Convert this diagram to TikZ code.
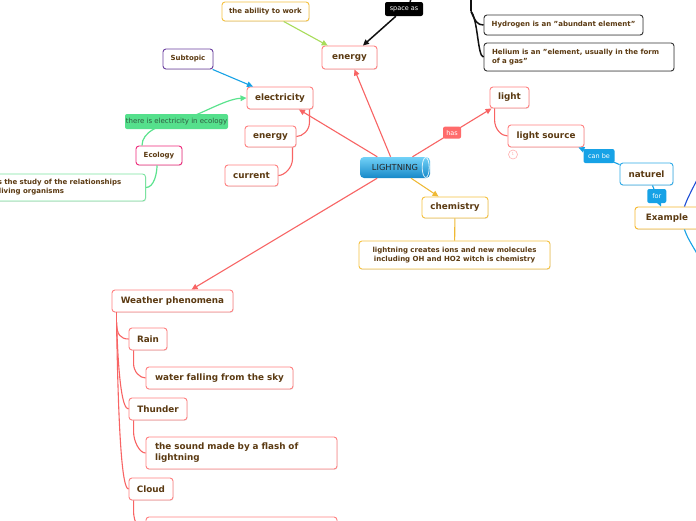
\documentclass[tikz,border=0pt]{standalone}
\usepackage{fontspec}
\setmainfont{DejaVu Sans}
\usetikzlibrary{arrows.meta,shadows,calc}
\definecolor{txt}{HTML}{5B3A12}
\definecolor{redb}{HTML}{FF8080}
\definecolor{redl}{HTML}{F86464}
\definecolor{hasred}{HTML}{FF6B6B}
\definecolor{yel}{HTML}{F5C242}
\definecolor{yell}{HTML}{EFB935}
\definecolor{exy}{HTML}{F5B82E}
\definecolor{ltgrn}{HTML}{A8DC5A}
\definecolor{grnl}{HTML}{5BE38E}
\definecolor{grnfill}{HTML}{55E08C}
\definecolor{grntxt}{HTML}{2F5A40}
\definecolor{grnb}{HTML}{7BE3A0}
\definecolor{pinkb}{HTML}{EE2A7B}
\definecolor{purb}{HTML}{6B3FA0}
\definecolor{blu}{HTML}{17A2E6}
\definecolor{natb}{HTML}{2EAAE8}
\definecolor{dkblu}{HTML}{1F4FD6}
\definecolor{blkb}{HTML}{333333}
\definecolor{blkl}{HTML}{111111}
\definecolor{pinkc}{HTML}{FFB0B0}
\definecolor{lg1}{HTML}{72D2F8}
\definecolor{lg2}{HTML}{2AA8EA}
\definecolor{lg3}{HTML}{1688C8}
\tikzset{
  base/.style={rounded corners=3pt, fill=white, line width=0.9pt, inner sep=0pt, text=txt,
    drop shadow={opacity=0.18, shadow xshift=0.6pt, shadow yshift=-0.9pt}},
  big/.style={base, font=\fontsize{8.8}{11}\selectfont\bfseries},
  small/.style={base, font=\fontsize{7}{9}\selectfont\bfseries},
  redbox/.style={big, draw=redb},
  tag/.style={rounded corners=2pt, inner sep=0pt, text=white, font=\fontsize{6.5}{8}\selectfont},
  redln/.style={draw=redl, line width=1.1pt},
  yelln/.style={draw=yell, line width=1.1pt},
  grnln/.style={draw=grnl, line width=1.2pt},
  bluln/.style={draw=blu, line width=1.1pt},
  blkln/.style={draw=blkl, line width=1.5pt},
  tip/.style={-{Triangle[length=6pt,width=5.5pt]}},
}
\begin{document}
\begin{tikzpicture}[x=1pt,y=-1pt]
\useasboundingbox (0,0) rectangle (696,520);
\clip (0,0) rectangle (696,520);
\fill[white] (0,0) rectangle (696,520);

% nodes
\node[small, draw=yel, minimum width=87pt, minimum height=19pt] (ability) at (265.5,11.5) {the ability to work};
\node[tag, fill=black, minimum width=38pt, minimum height=14pt] (space) at (404,9) {space as};
\node[redbox, minimum width=55pt, minimum height=23pt] (en1) at (349.5,57.5) {energy};
\node[base, draw=gray!30, minimum width=95pt, minimum height=30pt] (topbox) at (517.5,-16) {};
\node[small, draw=blkb, minimum width=159pt, minimum height=20pt] (hyd) at (563.5,25) {Hydrogen is an "abundant element"};
\node[small, draw=blkb, text width=174pt, align=left, inner xsep=8pt, minimum height=28pt] (hel) at (579,57) {Helium is an "element, usually in the form\\of a gas"};
\node[small, draw=purb, minimum width=50pt, minimum height=20pt] (sub) at (188,59) {Subtopic};
\node[redbox, minimum width=66pt, minimum height=22pt] (elec) at (280,98) {electricity};
\node[small, draw=pinkb, minimum width=46pt, minimum height=19pt] (eco) at (159,155.5) {Ecology};
\node[small, draw=grnb, text width=175pt, align=left, inner xsep=8pt, minimum height=27pt, anchor=east] (ecobox) at (146,187.5) {Ecology is the study of the relationships\\between living organisms};
\node[redbox, minimum width=51pt, minimum height=21pt] (en2) at (270.5,136.5) {energy};
\node[redbox, minimum width=53pt, minimum height=21pt] (cur) at (251.5,175.5) {current};
\node[rounded corners=4pt, minimum width=70pt, minimum height=21pt, inner sep=0pt,
  shading=axis, top color=lg1, middle color=lg2, bottom color=lg3,
  font=\fontsize{8.3}{10}\selectfont, text=black!85] (L) at (395,167.5) {LIGHTNING};
\draw[white, opacity=0.8, line width=0.8pt] ($(L.east)+(-4.5,0)$) ellipse [x radius=3.5pt, y radius=10pt];
\node[redbox, minimum width=39pt, minimum height=21pt] (light) at (509.5,97.5) {light};
\node[redbox, minimum width=76pt, minimum height=22pt] (ls) at (546,136) {light source};
\node[circle, draw=pinkc, line width=0.6pt, minimum size=9pt, inner sep=0pt, font=\fontsize{4}{4}\selectfont, text=pinkc] (badge) at (513,154.5) {1};
\node[big, draw=natb, minimum width=53pt, minimum height=22pt] (nat) at (646.5,174) {naturel};
\node[big, draw=exy, minimum width=64pt, minimum height=22pt] (ex) at (667,218) {Example};
\node[big, draw=yel, minimum width=66pt, minimum height=21pt] (chem) at (455,207.5) {chemistry};
\node[small, draw=yel, minimum width=191pt, minimum height=28pt, align=center] (note) at (454.5,255) {lightning creates ions and new molecules\\including OH and HO2 witch is chemistry};
\node[redbox, minimum width=121pt, minimum height=22pt] (wp) at (172.5,301) {Weather phenomena};
\node[redbox, minimum width=38pt, minimum height=22pt] (rain) at (148,339) {Rain};
\node[redbox, minimum width=147pt, minimum height=22pt] (water) at (219.5,378) {water falling from the sky};
\node[redbox, minimum width=58pt, minimum height=22pt] (thunder) at (158,409) {Thunder};
\node[redbox, text width=173pt, align=left, inner xsep=9pt, minimum height=32pt] (sound) at (241.5,453) {the sound made by a flash of\\lightning};
\node[redbox, minimum width=44pt, minimum height=22pt] (cloud) at (151,489) {Cloud};
\node[redbox, minimum width=191pt, minimum height=32pt] (bot) at (241.5,533) {};

% connectors from LIGHTNING
\draw[redln, tip] (L) -- (en1);
\draw[redln, tip] (L) -- (elec);
\draw[redln, tip] (L) -- node[tag, fill=hasred, minimum width=18pt, minimum height=12pt] (has) {has} (light);
\draw[redln, tip] (L) -- (wp);
\draw[yelln, tip] (L) -- (chem);
\draw[yelln] (chem) -- (note);

% top connectors
\draw[draw=ltgrn, line width=1.1pt, tip] (ability) -- (en1);
\draw[blkln, tip] (space) -- (en1);
\draw[blkln] ([xshift=6pt]space.north) -- ++(3,-8);
\draw[blkln] ([xshift=1.5pt]topbox.south west) -- ++(0,12) coordinate (tb);
\draw[blkln] (tb) .. controls +(4,10) and +(-6,0) .. (hyd.west);
\draw[blkln] (tb) .. controls +(7,8) and +(-6,0) .. (hel.west);

% electricity side
\draw[bluln, tip] (sub) -- (elec);
\coordinate (elc) at (176.5,121.5);
\draw[grnln, tip] ([xshift=-17pt]eco.north) .. controls +(0,-14) and +(-16,3) .. (elc) .. controls +(22,-5) and +(-22,1) .. (elec.west);
\node[tag, fill=grnfill, text=grntxt, font=\fontsize{7}{9}\selectfont, minimum width=103pt, minimum height=15pt] (elabel) at (elc) {there is electricity in ecology};
\draw[grnln] (ecobox.east) .. controls +(8,0) and +(0,8) .. ([xshift=-2pt]eco.south);
\draw[redln] ([xshift=-4pt]elec.south east) -- ++(0,13) .. controls +(0,8) and +(6,0) .. (en2.east);
\draw[redln] ([xshift=-4pt]en2.south east) -- ++(0,12) .. controls +(0,8) and +(6,0) .. (cur.east);

% light side
\draw[redln] ([xshift=5pt]light.south west) -- ++(0,11) .. controls +(0,10) and +(-6,0) .. (ls.west);
\draw[bluln, tip] ([yshift=-2pt]nat.north west) -- node[tag, fill=blu, minimum width=31pt, minimum height=14pt] (canbe) {can be} ([xshift=-6pt]ls.south east);
\draw[bluln, tip] ([xshift=6pt]nat.south) -- node[tag, fill=blu, minimum width=19pt, minimum height=14pt] (for) {for} ([xshift=-6pt]ex.north);
\coordinate (exo1) at (702,170);
\coordinate (exo2) at (702,262);
\draw[draw=dkblu, line width=1.1pt] ([xshift=-15pt]ex.north east) .. controls +(3,-8) .. (exo1);
\draw[bluln] ([xshift=-15pt]ex.south east) .. controls +(3,8) .. (exo2);

% weather tree
\draw[redln] ([xshift=5pt]wp.south west) -- ++(0,10) coordinate (wr);
\draw[redln] (wr) .. controls +(0,12) and +(-8,0) .. (rain.west);
\draw[redln] (wr) .. controls +(2,60) and +(-6,0) .. (thunder.west);
\draw[redln] (wr) .. controls +(2,120) and +(-6,0) .. (cloud.west);
\draw[redln] ([xshift=5pt]rain.south west) -- ++(0,13) .. controls +(0,8) and +(-6,0) .. (water.west);
\draw[redln] ([xshift=5pt]thunder.south west) -- ++(0,11) .. controls +(0,10) and +(-6,0) .. (sound.west);
\draw[redln] ([xshift=5pt]cloud.south west) -- ++(0,11) .. controls +(0,10) and +(-6,0) .. (bot.west);
\end{tikzpicture}
\end{document}
